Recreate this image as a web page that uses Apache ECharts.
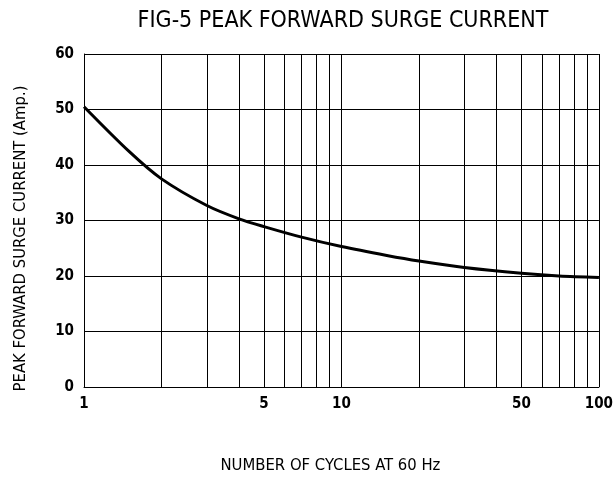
<!DOCTYPE html>
<html>
<head>
<meta charset="utf-8">
<script src="https://cdn.jsdelivr.net/npm/echarts@6/dist/echarts.min.js"></script>
<style>
html,body{margin:0;padding:0;background:#fff;}
#c{width:616px;height:479px;}
</style>
</head>
<body>
<div id="c"></div>
<script>
const cycles = [1, 1.5, 2, 3, 4, 5, 7, 10, 15, 20, 30, 50, 70, 100];
const current = [50.5, 42.4, 37.5, 32.7, 30.3, 28.9, 27.0, 25.3, 23.7, 22.7, 21.55, 20.5, 20.0, 19.75];
const gridX = [1, 2, 3, 4, 5, 6, 7, 8, 9, 10, 20, 30, 40, 50, 60, 70, 80, 90, 100];
const xLabels = [1, 5, 10, 50, 100];

const FONT = '"DejaVu Sans Condensed", "Liberation Sans Narrow", "Arial Narrow", sans-serif';
const chart = echarts.init(document.getElementById('c'));
chart.setOption({
  animation: false,
  backgroundColor: '#fff',
  title: {
    text: 'FIG-5 PEAK FORWARD SURGE CURRENT',
    left: 338, top: 5, textAlign: 'center',
    textStyle: {fontFamily: FONT, fontSize: 23, fontWeight: 'normal', color: '#000'}
  },
  grid: {left: 84, right: 14, top: 54, bottom: 89},
  xAxis: {
    type: 'log', logBase: 10, min: 1, max: 100,
    name: 'NUMBER OF CYCLES AT 60 Hz', nameLocation: 'middle', nameGap: 70,
    nameTextStyle: {fontFamily: FONT, fontSize: 16.5, color: '#000', padding: [0, 22, 0, 0]},
    axisLine: {show: true, lineStyle: {color: '#000', width: 1}},
    axisTick: {show: false, customValues: gridX},
    axisLabel: {customValues: xLabels, fontFamily: FONT, fontSize: 15, fontWeight: 'bold', color: '#000', margin: 10},
    splitLine: {show: true, lineStyle: {color: '#000', width: 1}},
    minorSplitLine: {show: false}
  },
  yAxis: {
    type: 'value', min: 0, max: 60, interval: 10,
    name: 'PEAK FORWARD SURGE CURRENT (Amp.)', nameLocation: 'middle', nameGap: 55,
    nameTextStyle: {fontFamily: FONT, fontSize: 16.5, color: '#000', padding: [0, 36, 0, 0]},
    axisLine: {show: true, lineStyle: {color: '#000', width: 1}},
    axisTick: {show: false},
    axisLabel: {fontFamily: FONT, fontSize: 15, fontWeight: 'bold', color: '#000', margin: 10},
    splitLine: {show: true, lineStyle: {color: '#000', width: 1}}
  },
  series: [{
    type: 'line',
    data: cycles.map((c, i) => [c, current[i]]),
    smooth: 0.3,
    showSymbol: false,
    lineStyle: {color: '#000', width: 3}
  }]
});
</script>
</body>
</html>
